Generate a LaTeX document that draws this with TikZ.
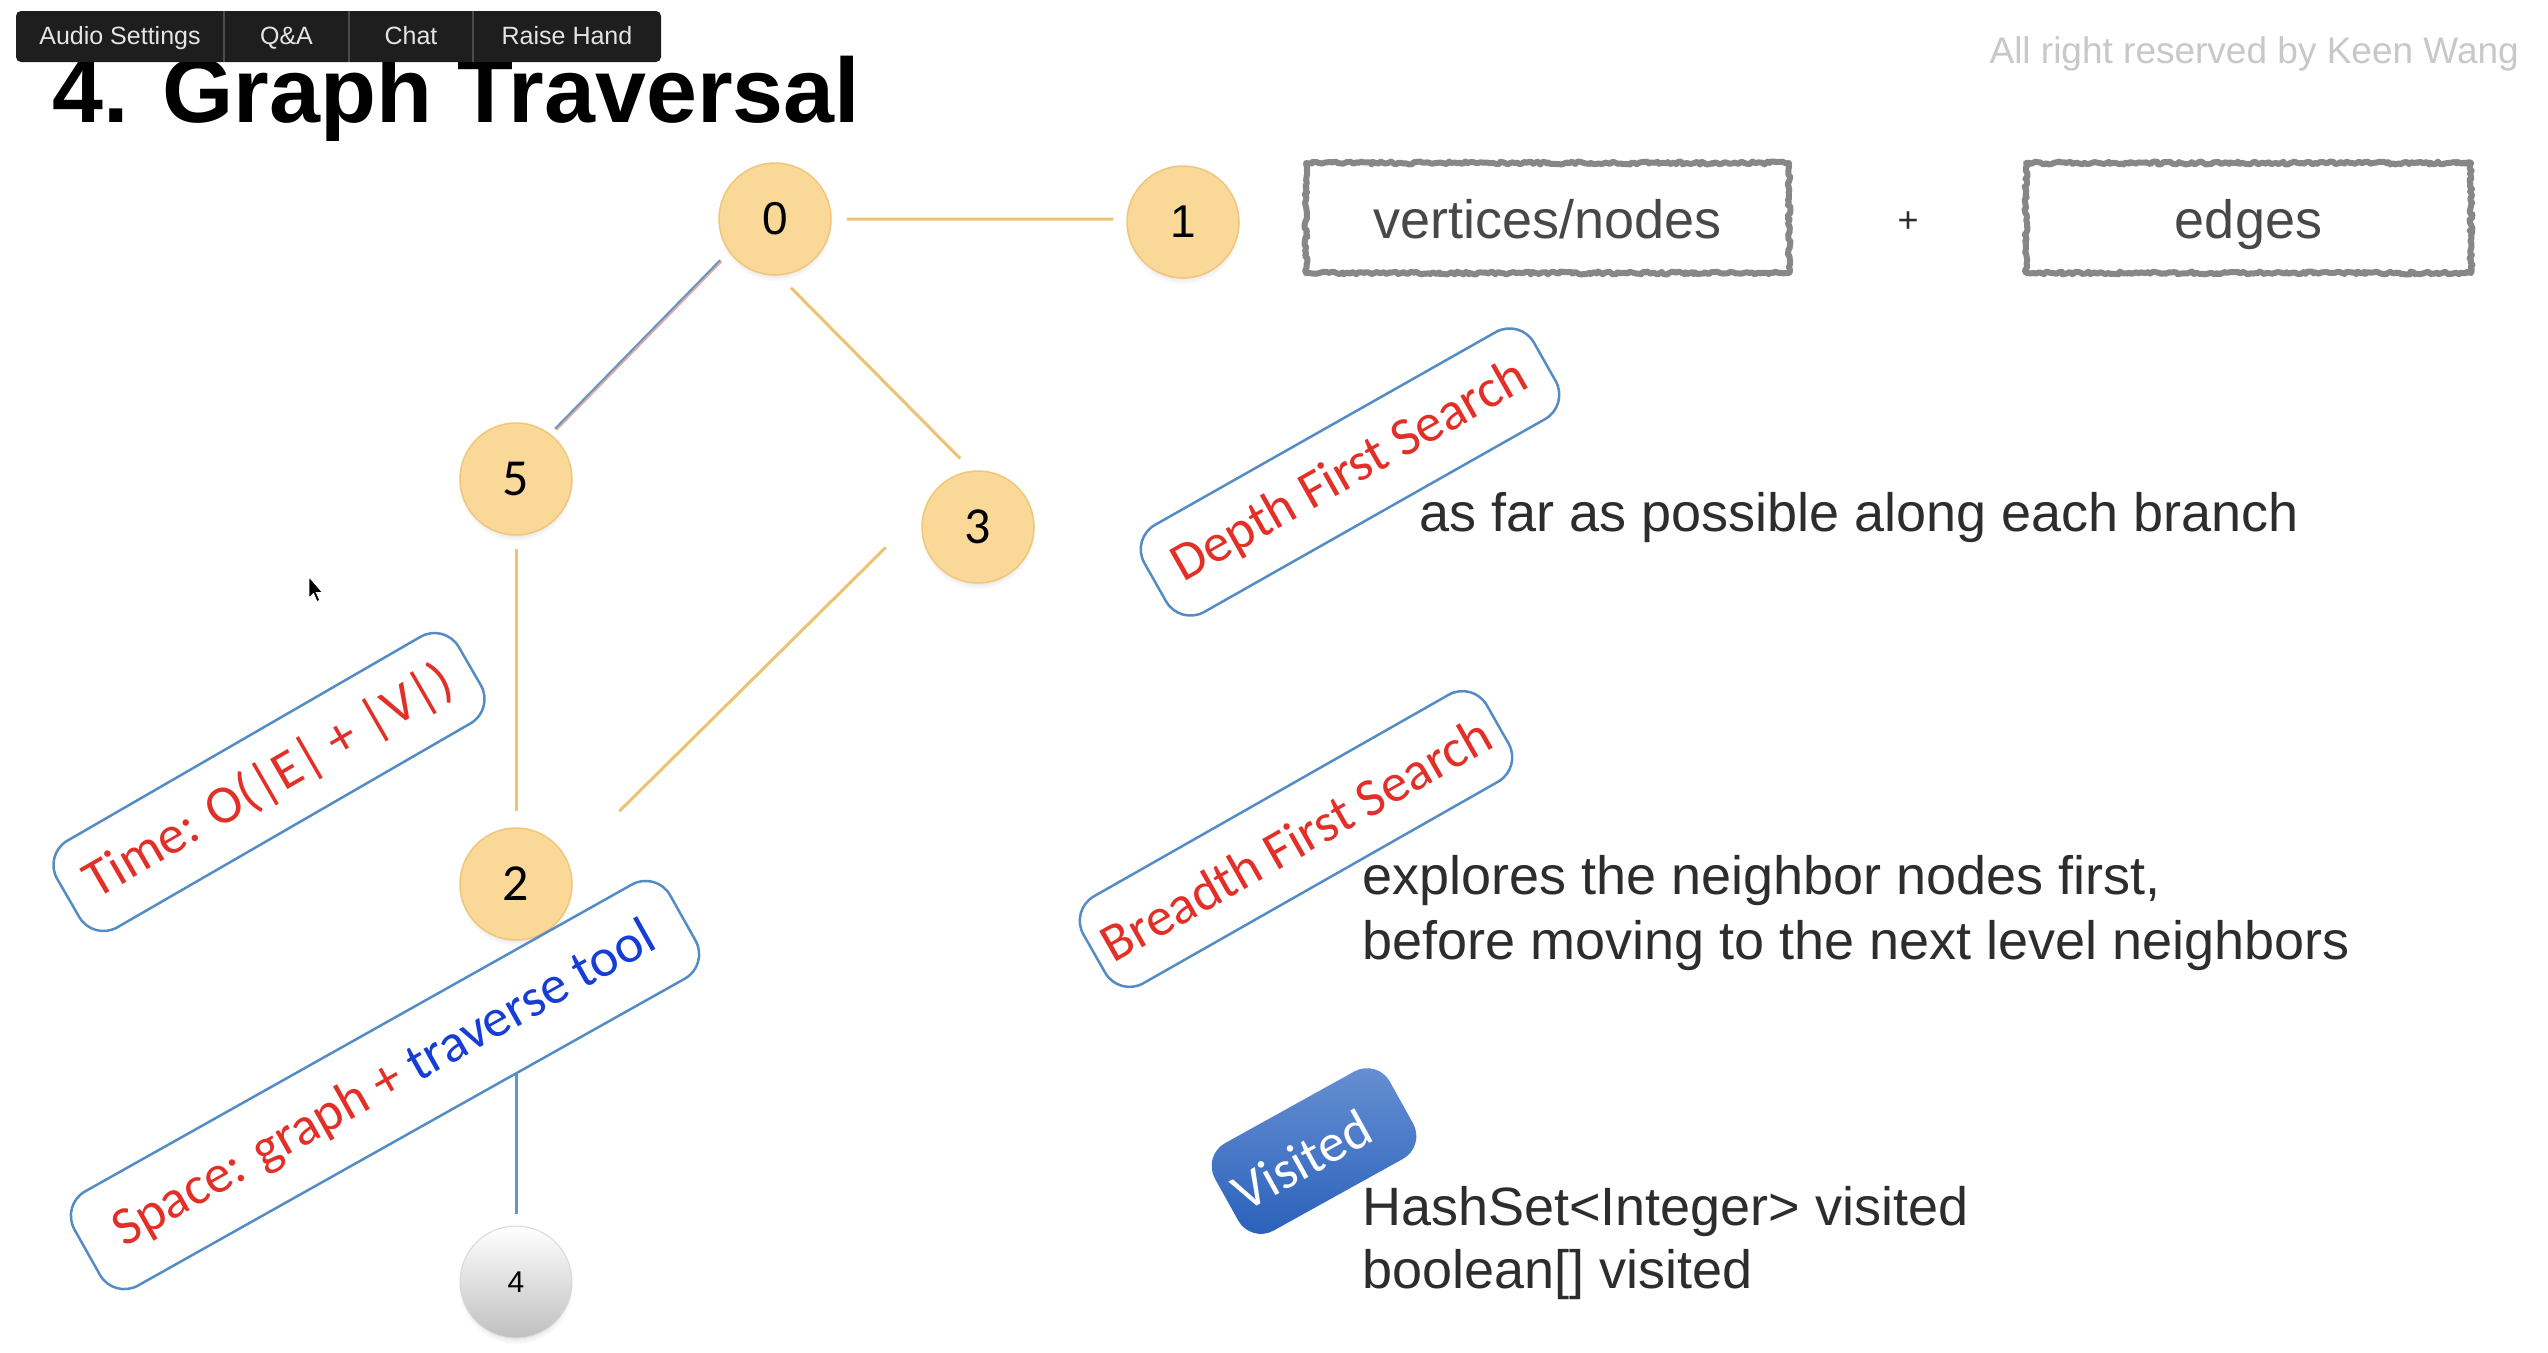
\documentclass[tikz,border=0pt]{standalone}
\usepackage{fontspec}
\setmainfont{Liberation Sans}
\newfontfamily\carlito{Carlito}
\usetikzlibrary{shadows,decorations.pathmorphing,calc}

\definecolor{gold}{RGB}{235,196,112}
\definecolor{nodefill}{RGB}{250,216,152}
\definecolor{nodeedge}{RGB}{240,198,125}
\definecolor{boxblue}{RGB}{85,140,195}
\definecolor{txtred}{RGB}{226,48,40}
\definecolor{txtblue}{RGB}{22,62,214}
\definecolor{bodygrey}{RGB}{45,45,45}
\definecolor{roughgrey}{RGB}{135,135,135}
\definecolor{roughtxt}{RGB}{72,72,72}
\definecolor{barbg}{RGB}{30,30,30}
\definecolor{barsep}{RGB}{75,75,75}
\definecolor{bartext}{RGB}{228,228,228}
\definecolor{copygrey}{RGB}{200,200,200}
\definecolor{visA}{RGB}{105,145,212}
\definecolor{visB}{RGB}{40,95,185}
\definecolor{edgeblue}{RGB}{100,150,195}
\definecolor{edgepink}{RGB}{228,172,160}

\newcommand\bigtxt{\fontsize{54}{64}\selectfont}

\begin{document}
\begin{tikzpicture}[x=1pt,y=-1pt,
  vert/.style={circle, minimum size=112pt, inner sep=0pt, fill=nodefill, draw=nodeedge, line width=1.5pt,
    circular drop shadow={shadow xshift=0pt, shadow yshift=-5pt, opacity=0.22, shadow scale=1.02}},
  vertgrey/.style={circle, minimum size=112pt, inner sep=0pt, top color=white, bottom color=black!25, draw=black!15, line width=1pt,
    circular drop shadow={shadow xshift=0pt, shadow yshift=-5pt, opacity=0.22, shadow scale=1.02}},
  arialnum/.style={font=\fontsize{46}{50}\selectfont},
  calnum/.style={font=\carlito\fontsize{52}{56}\selectfont},
  edge/.style={draw=gold, line width=3pt},
  tag/.style={draw=boxblue, line width=2.5pt, fill=white, rounded corners=28pt, minimum height=100pt,
    inner xsep=24pt, inner ysep=0pt, font=\carlito\bigtxt, text=txtred},
  visbox/.style={top color=visA, bottom color=visB, rounded corners=26pt, inner sep=0pt},
  body/.style={anchor=base west, inner sep=0pt, font=\bigtxt, text=bodygrey},
  rough/.style={draw=roughgrey, line width=6pt, line join=round, fill=white, minimum height=110pt, inner sep=0pt,
    text height=40pt, text depth=0pt,
    font=\bigtxt, text=roughtxt, decorate, decoration={random steps, segment length=2.5pt, amplitude=1.5pt}},
  bartxt/.style={minimum height=51pt, inner sep=0pt, text height=18pt, text depth=3pt, text=bartext, font=\fontsize{25}{27}\selectfont},
]
\pgfmathsetseed{11}
\fill[white] (0,0) rectangle (2548,1352);
\useasboundingbox (0,0) rectangle (2548,1352);

% title and copyright
\node[anchor=base west, inner sep=0pt, font=\bfseries\fontsize{91.6}{100}\selectfont] (title) at (52,122) {4. Graph Traversal};
\node[anchor=base east, inner sep=0pt, text=copygrey, font=\fontsize{37}{40}\selectfont] (copy) at (2519,63) {All right reserved by Keen Wang};

% toolbar
\node[fill=barbg, rounded corners=5pt, minimum width=645pt, minimum height=51pt, inner sep=0pt] (bar) at (338.5,36.5) {};
\node[bartxt, minimum width=208pt] (audio) at (120,36.5) {Audio Settings};
\node[bartxt, minimum width=125pt] (qa) at (286.5,36.5) {Q\&A};
\node[bartxt, minimum width=124pt] (chat) at (411,36.5) {Chat};
\node[bartxt, minimum width=188pt] (raise) at (567,36.5) {Raise Hand};
\draw[barsep, line width=1.5pt] (audio.north east) -- (audio.south east);
\draw[barsep, line width=1.5pt] (qa.north east) -- (qa.south east);
\draw[barsep, line width=1.5pt] (chat.north east) -- (chat.south east);

% graph vertices
\node[vert, arialnum] (n0) at (775,219) {0};
\node[vert, arialnum] (n1) at (1183,222) {1};
\node[vert, calnum] (n5) at (516,479) {5};
\node[vert, calnum] (n3) at (978,527) {3};
\node[vert, calnum] (n2) at (516,884) {2};
\node[vertgrey, font=\fontsize{30}{34}\selectfont] (n4) at (516,1282) {4};

% graph edges
\draw[edge, shorten <=15pt, shorten >=13pt] (n0.0) -- (n1.177);
\draw[draw=edgepink, line width=2pt, shorten <=12pt, shorten >=7pt, transform canvas={xshift=1.3pt, yshift=-1.3pt}] (n0.215.5) -- (n5.53.6);
\draw[draw=edgeblue, line width=2pt, shorten <=12pt, shorten >=7pt] (n0.215.5) -- (n5.53.6);
\draw[edge, shorten <=17pt, shorten >=17pt] (n0.-86.8) -- (n3.96);
\draw[edge, shorten <=13pt, shorten >=16pt] (n5.south) -- (n2.north);
\draw[edge, shorten <=54pt, shorten >=72pt] (n3.162) -- (n2.23);
\draw[draw=edgeblue, line width=3pt, shorten <=10pt, shorten >=12pt] (n2.south) -- (n4.north);

% structure boxes
\node[rough, minimum width=483pt] (vbox) at (1547.5,218) {vertices/nodes};
\node[font=\fontsize{36}{40}\selectfont, text=bodygrey, inner sep=0pt] (plus) at (1908,222) {+};
\node[rough, minimum width=445pt] (ebox) at (2248.5,218) {edges};

% tags
\node[tag, rotate=29.5] (dfs) at (1350,472) {Depth First Search};
\node[tag, rotate=29.6, inner xsep=12pt] (bfs) at (1296,839) {Breadth First Search};
\node[tag, rotate=30] (time) at (269,782) {Time: O(|E| + |V|)};
\node[tag, rotate=29.3, inner xsep=35pt, minimum height=108pt] (space) at (385,1085) {Space: graph + \textcolor{txtblue}{traverse tool}};
\node[visbox, rotate=29, minimum width=200pt, minimum height=100pt] (vis) at (1314,1151) {};
\node[rotate=29, inner sep=0pt, font=\carlito\bigtxt, text=white] (vistxt) at (1302,1160) {Visited};

% descriptions
\node[body] (dfsdesc) at (1419,531) {as far as possible along each branch};
\node[body] (bfsdesc1) at (1362,894) {explores the neighbor nodes first,};
\node[body] (bfsdesc2) at (1362,959) {before moving to the next level neighbors};
\node[body] (visdesc1) at (1362,1225) {HashSet<Integer> visited};
\node[body] (visdesc2) at (1362,1288) {boolean[] visited};

% mouse cursor
\draw[fill=black, draw=white, line width=0.8pt] (309,577) -- (309,598) -- (313.5,593.5) -- (317,601.5) -- (319.8,600.3) -- (316.3,592.5) -- (322.5,592.5) -- cycle;
\end{tikzpicture}
\end{document}
